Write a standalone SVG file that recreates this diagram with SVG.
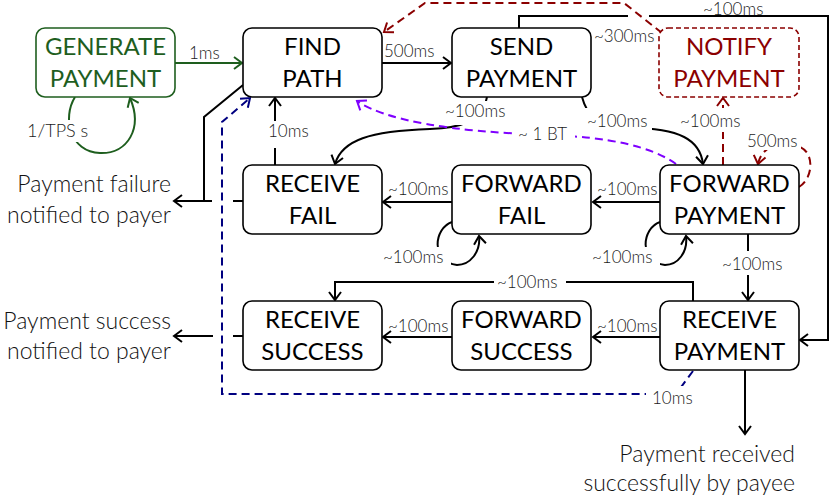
<svg xmlns="http://www.w3.org/2000/svg" width="830" height="499" viewBox="0 0 830 499">
<style>
  .node rect { fill: #fff; stroke: #000; stroke-width: 1.6; }
  .node text { font-family: Lato, "Liberation Sans", sans-serif; font-size: 24px; text-anchor: middle; fill: #000; }
  .gen rect { stroke: #1e5e1e; }
  .gen text { fill: #1e5e1e; }
  .notify rect { stroke: #8b0000; stroke-dasharray: 5 3; }
  .notify text { fill: #8b0000; }
  .c { fill: none; stroke: #000; stroke-width: 2; }
  .cg { stroke: #1e5e1e; }
  .cr { stroke: #8b0000; stroke-dasharray: 8 5; }
  .cb { stroke: #000080; stroke-dasharray: 8 5; }
  .cp { stroke: #7f00ff; stroke-dasharray: 8 5; }
  .lbl { font-family: Lato, "Liberation Sans", sans-serif; font-size: 17px; font-weight: 300; fill: #1a1a1a; }
  .ext { font-family: Lato, "Liberation Sans", sans-serif; font-size: 23px; font-weight: 300; fill: #111; text-anchor: end; }
  .bg { fill: #fff; }
</style>
<defs>
  <marker id="ak" markerUnits="userSpaceOnUse" markerWidth="14" markerHeight="16" viewBox="-10 -8 12 16" refX="0" refY="0" orient="auto">
    <path d="M-8,-6 L0,0 L-8,6" fill="none" stroke="#000" stroke-width="2"/>
  </marker>
  <marker id="ag" markerUnits="userSpaceOnUse" markerWidth="14" markerHeight="16" viewBox="-10 -8 12 16" refX="0" refY="0" orient="auto">
    <path d="M-8,-6 L0,0 L-8,6" fill="none" stroke="#1e5e1e" stroke-width="2"/>
  </marker>
  <marker id="ar" markerUnits="userSpaceOnUse" markerWidth="14" markerHeight="16" viewBox="-10 -8 12 16" refX="0" refY="0" orient="auto">
    <path d="M-8,-6 L0,0 L-8,6" fill="none" stroke="#8b0000" stroke-width="2"/>
  </marker>
  <marker id="ab" markerUnits="userSpaceOnUse" markerWidth="14" markerHeight="16" viewBox="-10 -8 12 16" refX="0" refY="0" orient="auto">
    <path d="M-8,-6 L0,0 L-8,6" fill="none" stroke="#000080" stroke-width="2"/>
  </marker>
  <marker id="ap" markerUnits="userSpaceOnUse" markerWidth="14" markerHeight="16" viewBox="-10 -8 12 16" refX="0" refY="0" orient="auto">
    <path d="M-8,-6 L0,0 L-8,6" fill="none" stroke="#7f00ff" stroke-width="2"/>
  </marker>
</defs>
<rect width="830" height="499" fill="#fff"/>

<g id="connectors">
  <path class="c cg" d="M175,63 L242,63" marker-end="url(#ag)"/>
  <path class="c cg" d="M75,97 C62,118 70,152 100,153 C128,154 143,128 130,98" marker-end="url(#ag)"/>
  <path class="c" d="M382,63 L451,63" marker-end="url(#ak)"/>
  <path class="c cr" d="M662,33 L624,3 L425,3 L384,32" marker-end="url(#ar)"/>
  <path class="c" d="M519,28 L519,16 L628,16"/>
  <path class="c" d="M649,16 L828,16 L828,340 L800,340" marker-end="url(#ak)"/>
  <path class="c" d="M487,97 C482,122 460,128 430,129 C370,131 342,140 335,164" marker-end="url(#ak)"/>
  <path class="c" d="M582,97 C586,112 595,128 630,128 C680,128 700,140 703,164" marker-end="url(#ak)"/>
  <path class="c cp" d="M676,164 Q640,138 548,135 Q400,130 357,101" marker-end="url(#ap)"/>
  <path class="c cr" d="M723,165 L723,98" marker-end="url(#ar)"/>
  <path class="c cr" d="M799,187 C814,178 815,150 797,146 C780,142 762,145 758,164" marker-end="url(#ar)"/>
  <path class="c" d="M275,165 L275,98" marker-end="url(#ak)"/>
  <path class="c" d="M243,85 L204,117 L204,201 L174,201" marker-end="url(#ak)"/>
  <path class="c" d="M243,201 L233,201 M212,201 L204,201"/>
  <path class="c cb" d="M693,371 L676,394 L222,394 L222,122 L250,98" marker-end="url(#ab)"/>
  <path class="c" d="M660,202 L593,202" marker-end="url(#ak)"/>
  <path class="c" d="M452,202 L383,202" marker-end="url(#ak)"/>
  <path class="c" d="M452,222 C434,228 430,262 457,265 C470,265 481,252 479,236" marker-end="url(#ak)"/>
  <path class="c" d="M660,222 C642,228 638,262 665,265 C678,265 688,252 686,236" marker-end="url(#ak)"/>
  <path class="c" d="M748,234 L748,300" marker-end="url(#ak)"/>
  <path class="c" d="M693,301 L693,282 L335,282 L335,300" marker-end="url(#ak)"/>
  <path class="c" d="M660,337 L593,337" marker-end="url(#ak)"/>
  <path class="c" d="M452,337 L383,337" marker-end="url(#ak)"/>
  <path class="c" d="M243,336 L233,336"/>
  <path class="c" d="M213,336 L174,336" marker-end="url(#ak)"/>
  <path class="c" d="M745,370 L745,434" marker-end="url(#ak)"/>
</g>

<g id="labels">
  <text class="lbl" x="189" y="59">1ms</text>
  <text class="lbl" x="384" y="57">500ms</text>
  <text class="lbl" x="594" y="42">~300ms</text>
  <text class="lbl" x="703" y="15">~100ms</text>
  <rect class="bg" x="440" y="101" width="70" height="24"/>
  <text class="lbl" x="445" y="117">~100ms</text>
  <rect class="bg" x="584" y="108" width="68" height="22"/>
  <text class="lbl" x="587" y="127">~100ms</text>
  <rect class="bg" x="515" y="124" width="60" height="19"/>
  <text class="lbl" x="518" y="140">~ 1 BT</text>
  <rect class="bg" x="678" y="108" width="68" height="24"/>
  <text class="lbl" x="680" y="127">~100ms</text>
  <rect class="bg" x="745" y="131" width="56" height="19"/>
  <text class="lbl" x="747" y="147">500ms</text>
  <rect class="bg" x="266" y="121" width="47" height="27"/>
  <text class="lbl" x="268" y="137">10ms</text>
  <rect class="bg" x="25" y="120" width="70" height="22"/>
  <text class="lbl" x="27" y="137" style="font-size:18px">1/TPS s</text>
  <text class="lbl" x="597" y="195">~100ms</text>
  <text class="lbl" x="388" y="195">~100ms</text>
  <rect class="bg" x="381" y="247" width="70" height="20"/>
  <text class="lbl" x="383" y="263">~100ms</text>
  <rect class="bg" x="590" y="247" width="70" height="20"/>
  <text class="lbl" x="592" y="263">~100ms</text>
  <rect class="bg" x="720" y="251" width="70" height="24"/>
  <text class="lbl" x="722" y="270">~100ms</text>
  <rect class="bg" x="494" y="274" width="72" height="17"/>
  <text class="lbl" x="497" y="288">~100ms</text>
  <text class="lbl" x="597" y="332">~100ms</text>
  <text class="lbl" x="388" y="332">~100ms</text>
  <rect class="bg" x="646" y="386" width="52" height="24"/>
  <text class="lbl" x="652" y="404">10ms</text>
</g>

<g id="outcomes">
  <text class="ext" x="171" y="192">Payment failure</text>
  <text class="ext" x="171" y="223">notified to payer</text>
  <text class="ext" x="171" y="329">Payment success</text>
  <text class="ext" x="171" y="359">notified to payer</text>
  <text class="ext" x="795" y="462">Payment received</text>
  <text class="ext" x="795" y="491">successfully by payee</text>
</g>

<g id="generate-payment" class="node gen">
  <rect x="36" y="28" width="139" height="69" rx="9"/>
  <text x="105.5" y="55">GENERATE</text>
  <text x="105.5" y="87">PAYMENT</text>
</g>
<g id="find-path" class="node">
  <rect x="243" y="28" width="139" height="69" rx="9"/>
  <text x="312.5" y="55">FIND</text>
  <text x="312.5" y="87">PATH</text>
</g>
<g id="send-payment" class="node">
  <rect x="452" y="28" width="139" height="69" rx="9"/>
  <text x="521.5" y="55">SEND</text>
  <text x="521.5" y="87">PAYMENT</text>
</g>
<g id="notify-payment" class="node notify">
  <rect x="659" y="28" width="140" height="69" rx="9"/>
  <text x="729" y="55">NOTIFY</text>
  <text x="729" y="87">PAYMENT</text>
</g>
<g id="receive-fail" class="node">
  <rect x="243" y="165" width="139" height="69" rx="9"/>
  <text x="312.5" y="192">RECEIVE</text>
  <text x="312.5" y="224">FAIL</text>
</g>
<g id="forward-fail" class="node">
  <rect x="452" y="165" width="139" height="69" rx="9"/>
  <text x="521.5" y="192">FORWARD</text>
  <text x="521.5" y="224">FAIL</text>
</g>
<g id="forward-payment" class="node">
  <rect x="660" y="165" width="139" height="69" rx="9"/>
  <text x="729.5" y="192">FORWARD</text>
  <text x="729.5" y="224">PAYMENT</text>
</g>
<g id="receive-success" class="node">
  <rect x="243" y="301" width="139" height="69" rx="9"/>
  <text x="312.5" y="328">RECEIVE</text>
  <text x="312.5" y="360">SUCCESS</text>
</g>
<g id="forward-success" class="node">
  <rect x="452" y="301" width="139" height="69" rx="9"/>
  <text x="521.5" y="328">FORWARD</text>
  <text x="521.5" y="360">SUCCESS</text>
</g>
<g id="receive-payment" class="node">
  <rect x="660" y="301" width="139" height="69" rx="9"/>
  <text x="729.5" y="328">RECEIVE</text>
  <text x="729.5" y="360">PAYMENT</text>
</g>
</svg>
